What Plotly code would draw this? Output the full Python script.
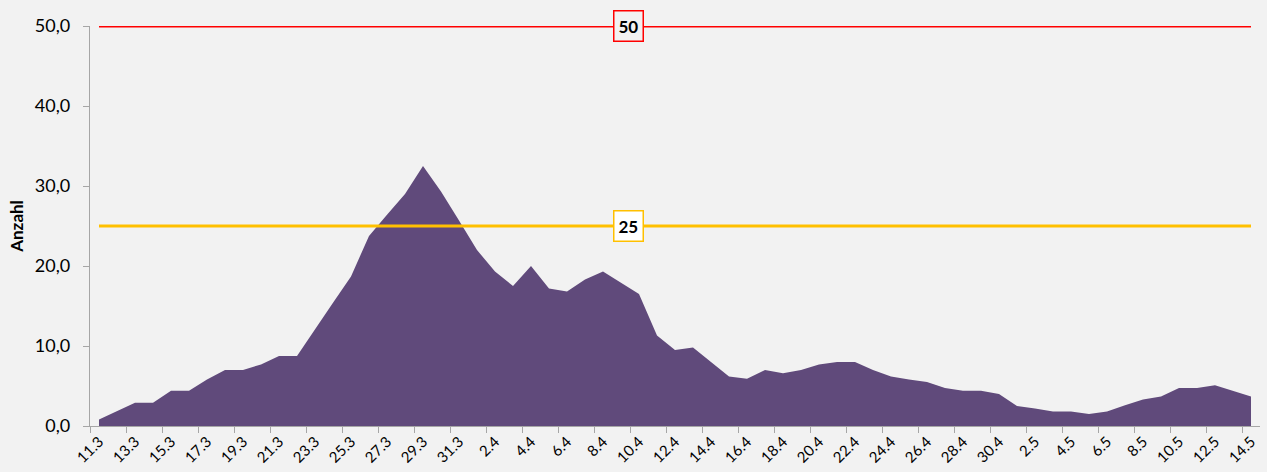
import plotly.graph_objects as go

dates = ["11.3","12.3","13.3","14.3","15.3","16.3","17.3","18.3","19.3","20.3",
         "21.3","22.3","23.3","24.3","25.3","26.3","27.3","28.3","29.3","30.3",
         "31.3","1.4","2.4","3.4","4.4","5.4","6.4","7.4","8.4","9.4",
         "10.4","11.4","12.4","13.4","14.4","15.4","16.4","17.4","18.4","19.4",
         "20.4","21.4","22.4","23.4","24.4","25.4","26.4","27.4","28.4","29.4",
         "30.4","1.5","2.5","3.5","4.5","5.5","6.5","7.5","8.5","9.5",
         "10.5","11.5","12.5","13.5","14.5"]
values = [0.8, 1.8, 2.9, 2.9, 4.4, 4.4, 5.8, 7.0, 7.0, 7.7,
          8.75, 8.75, 12.0, 15.4, 18.7, 23.75, 26.4, 29.0, 32.5, 29.3,
          25.7, 22.0, 19.3, 17.5, 20.0, 17.2, 16.8, 18.3, 19.3, 17.9,
          16.5, 11.3, 9.5, 9.8, 8.0, 6.2, 5.9, 7.0, 6.6, 7.0,
          7.7, 8.0, 8.0, 7.0, 6.2, 5.8, 5.5, 4.75, 4.4, 4.4,
          4.0, 2.5, 2.2, 1.8, 1.8, 1.5, 1.8, 2.6, 3.3, 3.7,
          4.75, 4.75, 5.1, 4.4, 3.7]
threshold_red = 50
threshold_yellow = 25
y_ticks = [0, 10, 20, 30, 40, 50]
y_ticklabels = ["0,0", "10,0", "20,0", "30,0", "40,0", "50,0"]

n = len(dates)
xs = list(range(n))
label_idx = list(range(0, n, 2))
label_text = [dates[i] for i in label_idx]
boundary_ticks = [i - 0.5 for i in range(0, n, 2)]
y_ticktext = [t + "\u00a0\u00a0" for t in y_ticklabels]

font = "Lato, 'Open Sans', sans-serif"
bg = "#F2F2F2"

fig = go.Figure()
fig.add_trace(go.Scatter(x=xs, y=values, mode="lines", fill="tozeroy",
                         fillcolor="#604A7B", line=dict(width=0, color="#604A7B"),
                         showlegend=False, hoverinfo="skip"))
fig.add_trace(go.Scatter(x=xs, y=[threshold_yellow] * n, mode="lines",
                         line=dict(color="#FFC000", width=3), showlegend=False))
fig.add_trace(go.Scatter(x=xs, y=[threshold_red] * n, mode="lines",
                         line=dict(color="#FF0000", width=3), showlegend=False,
                         cliponaxis=False))
# invisible trace for boundary tick axis
fig.add_trace(go.Scatter(x=[xs[0]], y=[0], xaxis="x2", mode="markers",
                         marker=dict(opacity=0), showlegend=False, hoverinfo="skip"))

xr = [-0.5, n - 0.5]
fig.update_layout(
    width=1267, height=472,
    paper_bgcolor=bg, plot_bgcolor=bg,
    margin=dict(l=90, r=7, t=26, b=46, autoexpand=False),
    font=dict(family=font, color="#000000"),
    xaxis=dict(range=xr, tickmode="array", tickvals=label_idx, ticktext=label_text,
               tickangle=-45, ticks="", tickfont=dict(size=15, family=font),
               showgrid=False, zeroline=False, showline=True, linecolor="#A6A6A6",
               linewidth=1, automargin=False),
    xaxis2=dict(range=xr, overlaying="x", side="bottom", tickmode="array",
                tickvals=boundary_ticks, ticks="outside", ticklen=6, tickcolor="#A6A6A6",
                showticklabels=False, showgrid=False, zeroline=False, showline=False,
                automargin=False),
    yaxis=dict(range=[0, 50], tickmode="array", tickvals=y_ticks, ticktext=y_ticktext,
               ticks="outside", ticklen=6, tickcolor="#A6A6A6", tickfont=dict(size=18, family=font),
               showgrid=False, zeroline=False, showline=True, linecolor="#A6A6A6", linewidth=1,
               automargin=False,
               title=dict(text="<b>Anzahl</b>", font=dict(size=17, family=font), standoff=6)),
)

label_x = 29.4
fig.add_annotation(x=label_x, y=threshold_red, text="<b>50</b>", showarrow=False,
                   font=dict(size=17, family=font, color="#000000"),
                   bgcolor=bg, bordercolor="#FF0000", borderwidth=1.5, borderpad=4)
fig.add_annotation(x=label_x, y=threshold_yellow, text="<b>25</b>", showarrow=False,
                   font=dict(size=17, family=font, color="#000000"),
                   bgcolor="#FFFFFF", bordercolor="#FFC000", borderwidth=1.5, borderpad=4)

fig.write_html("out.html", config={"staticPlot": True, "displayModeBar": False},
               post_script="document.body.style.margin='0';document.body.style.overflow='hidden';")
